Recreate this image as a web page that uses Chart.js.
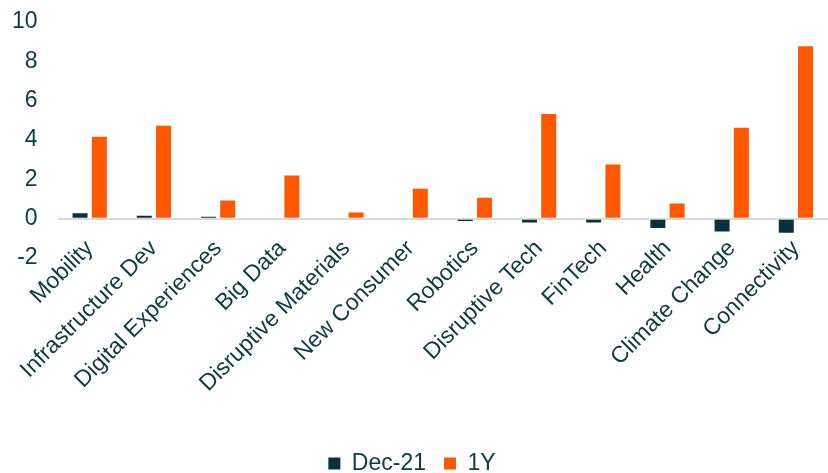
<!DOCTYPE html>
<html lang="en">
  <head>
    <meta charset="UTF-8" />
    <title>Thematic returns</title>
    <script src="https://cdn.jsdelivr.net/npm/chart.js@4.4.1/dist/chart.umd.min.js"></script>
    <style>
      html, body { margin: 0; padding: 0; background: #fff; }
      #wrap { width: 828px; height: 473px; }
    </style>
  </head>
  <body>
    <div id="wrap"><canvas id="chart"></canvas></div>
    <script>
      // themes along the x axis
      const themes = [
        "Mobility", "Infrastructure Dev", "Digital Experiences", "Big Data",
        "Disruptive Materials", "New Consumer", "Robotics", "Disruptive Tech",
        "FinTech", "Health", "Climate Change", "Connectivity"
      ];
      // month-to-date (Dec-21)
      const dec21 = [0.27, 0.15, 0.1, 0, 0, -0.05, -0.12, -0.2, -0.2, -0.47, -0.65, -0.72];
      // one year
      const oneYear = [4.17, 4.73, 0.92, 2.2, 0.31, 1.52, 1.06, 5.32, 2.75, 0.77, 4.62, 8.77];
      const yTicks = [-2, 0, 2, 4, 6, 8, 10];

      const textColor = "#0d3a44";
      Chart.defaults.font.family = "'Liberation Sans', Arial, sans-serif";
      Chart.defaults.color = textColor;

      // let the category labels ride up into the plot area without being clipped
      const noLabelClip = {
        id: "noLabelClip",
        afterLayout(chart) {
          chart.scales.x._computeLabelArea = () => undefined;
        }
      };

      const ctx = document.getElementById("chart").getContext("2d");
      const myChart = new Chart(ctx, {
        type: "bar",
        plugins: [noLabelClip],
        data: {
          labels: themes,
          datasets: [
            {
              label: "Dec-21",
              data: dec21,
              backgroundColor: "#08313b",
              categoryPercentage: 0.6,
              barPercentage: 0.78
            },
            {
              label: "1Y",
              data: oneYear,
              backgroundColor: "#ff5800",
              categoryPercentage: 0.6,
              barPercentage: 0.78
            }
          ]
        },
        options: {
          responsive: true,
          maintainAspectRatio: false,
          animation: false,
          layout: { padding: { left: -8, top: 22, right: -4, bottom: -12 } },
          plugins: {
            tooltip: { enabled: false },
            legend: {
              position: "bottom",
              labels: {
                boxWidth: 12,
                boxHeight: 12,
                padding: 18,
                font: { size: 23 },
                color: textColor
              }
            }
          },
          scales: {
            x: {
              grid: { display: false, drawTicks: false },
              border: { display: false },
              afterFit: axis => {
                axis.height = 176;
              },
              ticks: {
                autoSkip: false,
                maxRotation: 45,
                minRotation: 45,
                padding: -23,
                font: { size: 23 },
                color: textColor
              }
            },
            y: {
              min: -2,
              max: 10,
              afterBuildTicks: axis => {
                axis.ticks = yTicks.map(v => ({ value: v }));
              },
              afterFit: axis => {
                axis.paddingTop = 0;
                axis.paddingBottom = 0;
              },
              border: { display: false },
              grid: {
                drawTicks: false,
                lineWidth: 2,
                color: c => (c.tick && c.tick.value === 0 ? "#d9d9d9" : "rgba(0,0,0,0)")
              },
              ticks: {
                padding: 20,
                font: { size: 23 },
                color: textColor
              }
            }
          }
        }
      });
    </script>
  </body>
</html>
